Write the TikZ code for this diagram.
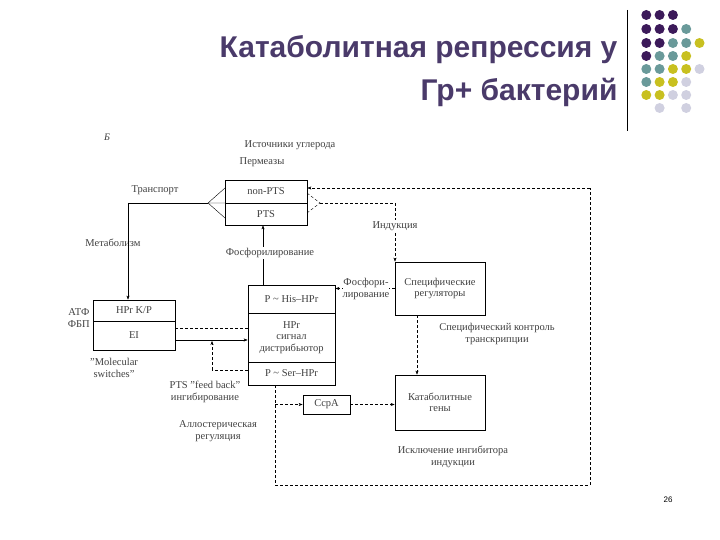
\documentclass[tikz,border=0pt]{standalone}
\usepackage{fontspec}
\setmainfont{Liberation Serif}
\newfontfamily\ttl{Liberation Sans}
\usetikzlibrary{arrows.meta}
\definecolor{cP}{HTML}{3C1A5A}
\definecolor{cT}{HTML}{6A9A9A}
\definecolor{cY}{HTML}{C8C020}
\definecolor{cL}{HTML}{D0D0E0}
\definecolor{ttlc}{HTML}{4A3A6A}
\begin{document}
\begin{tikzpicture}[x=1pt,y=-1pt,
  lbl/.style={font=\fontsize{10.5}{11.5}\selectfont,align=center,inner sep=1pt,text=black!75},
  box/.style={draw,thick,minimum width=#1,inner sep=0pt,font=\fontsize{10.5}{11.5}\selectfont,align=center,text=black!75},
  dsh/.style={dashed,dash pattern=on 3pt off 2pt},
  arr/.style={-{Stealth[length=4pt,width=3pt]}},
  dot/.style={circle,inner sep=0pt,minimum size=10pt}]
\useasboundingbox (0,0) rectangle (720,540);
% title
\node[anchor=east,font=\ttl\bfseries\fontsize{30}{34}\selectfont,text=ttlc] (t1) at (621,50) {Катаболитная репрессия у};
\node[anchor=east,font=\ttl\bfseries\fontsize{30}{34}\selectfont,text=ttlc] (t2) at (621,92) {Гр+ бактерий};
\draw (627,10) -- (627,131);
% dots
\foreach \c [count=\i] in {cP,cP,cP}{\node[dot,fill=\c] (d1\i) at ({633+13.3*\i},15){};}
\foreach \c [count=\i] in {cP,cP,cP,cT}{\node[dot,fill=\c] (d2\i) at ({633+13.3*\i},29){};}
\foreach \c [count=\i] in {cP,cP,cT,cT,cY}{\node[dot,fill=\c] (d3\i) at ({633+13.3*\i},43){};}
\foreach \c [count=\i] in {cP,cT,cT,cY}{\node[dot,fill=\c] (d4\i) at ({633+13.3*\i},56){};}
\foreach \c [count=\i] in {cT,cT,cY,cY,cL}{\node[dot,fill=\c] (d5\i) at ({633+13.3*\i},69){};}
\foreach \c [count=\i] in {cT,cY,cY,cL}{\node[dot,fill=\c] (d6\i) at ({633+13.3*\i},82){};}
\foreach \c [count=\i] in {cY,cY,cL,cL}{\node[dot,fill=\c] (d7\i) at ({633+13.3*\i},95){};}
\node[dot,fill=cL] (d82) at (659.6,108){};
\node[dot,fill=cL] (d84) at (686.2,108){};
% labels
\node[lbl,font=\itshape\fontsize{10}{11}\selectfont] (B) at (107,137) {Б};
\node[lbl] (ist) at (290,145) {Источники углерода};
\node[lbl] (perm) at (262,162) {Пермеазы};
% transport box
\node[box=82pt,minimum height=23pt] (np) at (266,191.5) {non-PTS};
\node[box=82pt,minimum height=22pt] (pts) at (266,214) {PTS};
\node[lbl] (tr) at (155,190) {Транспорт};
\node[lbl] (met) at (113,243) {Метаболизм};
\coordinate (fan) at (208,203);
\draw (fan) -- (225,188) (fan) -- (225,218) (fan) -- (225,203);
\coordinate (tl) at (128,203);
\draw (fan) -- (tl);
% HPr K/P box
\node[box=82pt,minimum height=21pt] (kp) at (134,310.5) {HPr K/P};
\node[box=82pt,minimum height=29pt] (ei) at (134,335.5) {EI};
\draw[arr] (tl) -- (kp.north -| tl);
\node[lbl,anchor=east] (atf) at (91,318) {АТФ\\ФБП};
\node[lbl] (mol) at (114,368) {"Molecular\\switches"};
% big HPr box
\node[box=87pt,minimum height=28pt] (his) at (291.5,299) {P \textasciitilde{} His–HPr};
\node[box=87pt,minimum height=49pt] (sig) at (291.5,337.5) {HPr\\сигнал\\дистрибьютор};
\node[box=87pt,minimum height=23pt] (ser) at (291.5,373.5) {P \textasciitilde{} Ser–HPr};
\draw[arr] (his.north -| 263,0) -- (pts.south -| 263,0);
\node[lbl,fill=white] (fos) at (270,253) {Фосфорилирование};
\draw[arr] (ei.east |- 0,340) -- (sig.west |- 0,340);
\draw[dsh] (ei.east |- 0,328) -- (sig.west |- 0,328);
\coordinate (fb) at (212,370);
\draw[dsh] (ser.west |- fb) -- (fb);
\draw[dsh,arr] (fb) -- (212,341);
\node[lbl] (pfb) at (205,392) {PTS "feed back"\\ингибирование};
% specific regulators
\node[box=90pt,minimum height=53pt] (sr) at (440,288.5) {Специфические\\регуляторы};
\draw[dsh,arr] (sr.west) -- (his.east |- sr.west);
\node[lbl,fill=white,inner sep=0pt] (fosf) at (366,289) {Фосфори-\\лирование};
% catabolite genes
\node[box=90pt,minimum height=55pt] (cg) at (440,402.5) {Катаболитные\\гены};
\draw[dsh,arr] (sr.south -| 417,0) -- (cg.north -| 417,0);
\node[lbl] (sct) at (497,334) {Специфический контроль\\транскрипции};
% CcpA
\node[box=47pt,minimum height=19pt] (ccpa) at (326.5,404.5) {CcpA};
\coordinate (ax) at (275,404.5);
\draw[dsh,arr] (ax) -- (ccpa);
\draw[dsh,arr] (ccpa) -- (cg.west |- ccpa);
\node[lbl] (allo) at (218,431) {Аллостерическая\\регуляция};
\node[lbl] (excl) at (453,457) {Исключение ингибитора\\индукции};
% dashed loop
\coordinate (c1) at (275,485);
\coordinate (c2) at (590,485);
\coordinate (c3) at (590,188);
\draw[dsh] (ser.south -| ax) -- (c1) -- (c2) -- (c3);
\draw[dsh,arr] (c3) -- (np.east |- c3);
% induction
\coordinate (ind) at (320,203);
\coordinate (ind2) at (395,203);
\draw[dsh] (307,193) -- (ind) -- (307,213);
\draw[dsh] (ind) -- (ind2);
\draw[dsh,arr] (ind2) -- (sr.north -| ind2);
\node[lbl,fill=white] (indl) at (395,226) {Индукция};
\node[font=\ttl\fontsize{8}{9}\selectfont] (pg) at (668,500) {26};
\end{tikzpicture}
\end{document}
